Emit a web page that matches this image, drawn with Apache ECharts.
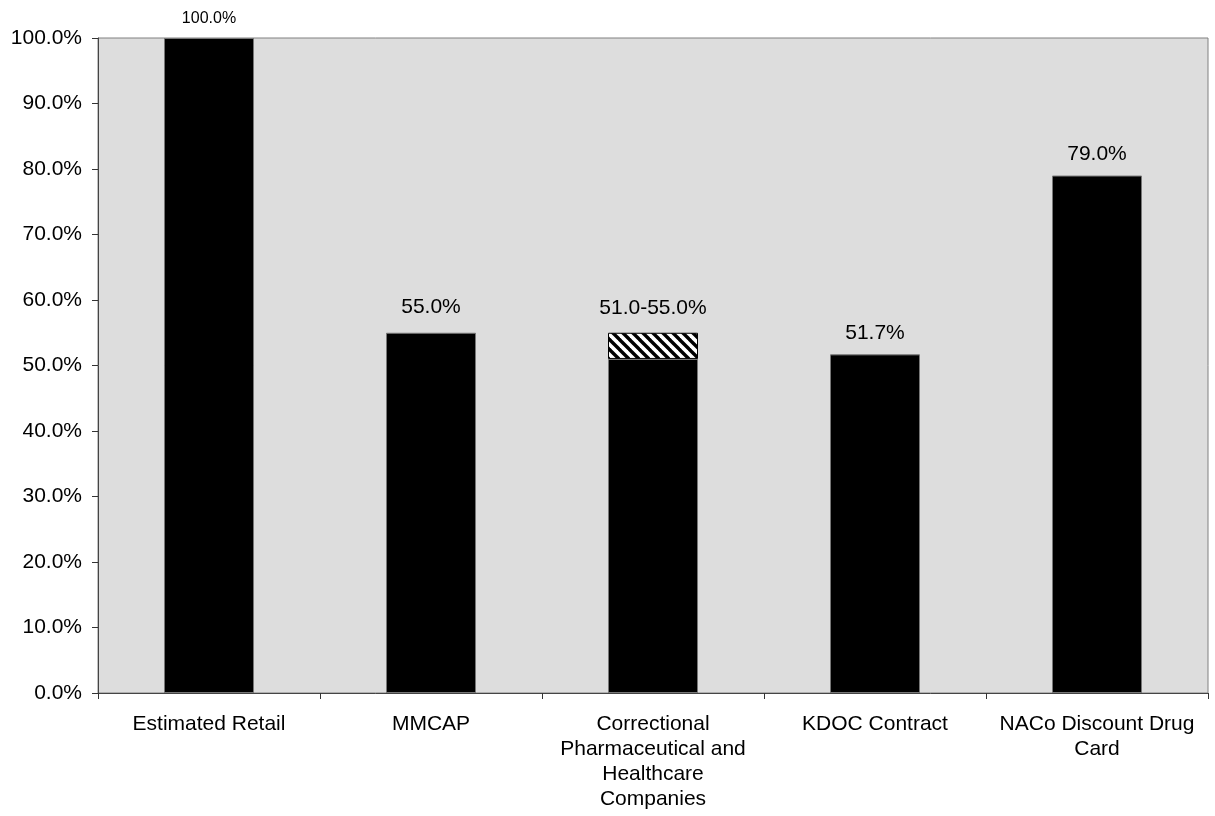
<!DOCTYPE html>
<html>
<head>
<meta charset="utf-8">
<script src="https://cdn.jsdelivr.net/npm/echarts@6/dist/echarts.min.js"></script>
<style>html,body{margin:0;padding:0;background:#fff}#c{width:1215px;height:816px}</style>
</head>
<body>
<div id="c"></div>
<script>
const categories = ['Estimated Retail', 'MMCAP', 'Correctional Pharmaceutical and Healthcare Companies', 'KDOC Contract', 'NACo Discount Drug Card'];
const baseValues = [100, 55, 51, 51.7, 79];
const rangeValues = [null, null, 4, null, null];
const baseLabels = ['100.0%', '55.0%', '', '51.7%', '79.0%'];
const rangeLabels = ['', '', '51.0-55.0%', '', ''];
const yTicks = [0, 10, 20, 30, 40, 50, 60, 70, 80, 90, 100];

const FONT = '"Liberation Sans", Arial, Helvetica, sans-serif';

// hatch pattern
const tile = document.createElement('canvas');
tile.width = 10; tile.height = 10;
const g = tile.getContext('2d');
g.fillStyle = '#fff'; g.fillRect(0, 0, 10, 10);
g.strokeStyle = '#000'; g.lineWidth = 3.4;
for (const k of [-10, 0, 10]) { g.beginPath(); g.moveTo(k - 1, -1); g.lineTo(k + 11, 11); g.stroke(); }

// wrap category names into lines no wider than maxW (text measured, no trailing spaces)
const mctx = document.createElement('canvas').getContext('2d');
mctx.font = '21px ' + FONT;
function wrap(s, maxW) {
  const words = s.split(' '); const lines = []; let cur = '';
  for (const w of words) {
    const t = cur ? cur + ' ' + w : w;
    if (cur && mctx.measureText(t).width > maxW) { lines.push(cur); cur = w; } else cur = t;
  }
  if (cur) lines.push(cur);
  return lines.join('\n');
}

const chart = echarts.init(document.getElementById('c'), null, {renderer: 'canvas'});
chart.setOption({
  animation: false,
  textStyle: {fontFamily: FONT},
  grid: {left: 98, right: 7, top: 38, bottom: 123, show: true, backgroundColor: '#dddddd', borderColor: '#808080', borderWidth: 1},
  xAxis: {
    type: 'category', data: categories,
    axisLine: {lineStyle: {color: '#444', width: 1}},
    axisTick: {show: true, length: 6, lineStyle: {color: '#333'}},
    axisLabel: {color: '#000', fontSize: 21, fontFamily: FONT, margin: 19, lineHeight: 25, interval: 0,
      formatter: v => wrap(v, 200)}
  },
  yAxis: {
    type: 'value', min: 0, max: 100, interval: 10,
    axisLine: {show: true, lineStyle: {color: '#444', width: 1}},
    axisTick: {show: true, length: 6, lineStyle: {color: '#333'}},
    splitLine: {show: false},
    axisLabel: {color: '#000', fontSize: 21, fontFamily: FONT, margin: 16,
      formatter: v => yTicks.includes(v) ? v.toFixed(1) + '%' : ''}
  },
  series: [
    {
      type: 'bar', stack: 's', barWidth: 90,
      data: baseValues.map((v, i) => ({
        value: v,
        label: {show: baseLabels[i] !== '', formatter: baseLabels[i], fontSize: i === 0 ? 16 : 21,
          distance: i === 1 ? 15 : 11}
      })),
      itemStyle: {color: '#000', borderColor: '#777', borderWidth: 1},
      label: {position: 'top', color: '#000', fontFamily: FONT}
    },
    {
      type: 'bar', stack: 's', barWidth: 90,
      data: rangeValues.map((v, i) => ({
        value: v == null ? '-' : v,
        label: {show: rangeLabels[i] !== '', formatter: rangeLabels[i]}
      })),
      itemStyle: {color: {image: tile, repeat: 'repeat'}, borderColor: '#000', borderWidth: 1},
      label: {position: 'top', color: '#000', fontFamily: FONT, fontSize: 21, distance: 14}
    }
  ]
});
</script>
</body>
</html>
